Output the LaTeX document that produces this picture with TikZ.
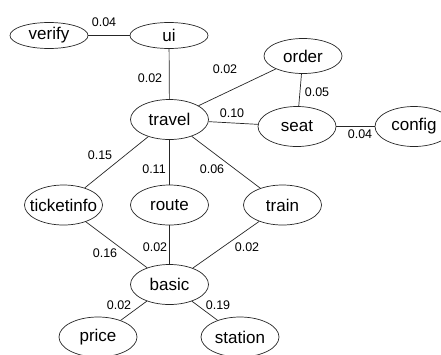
\documentclass[tikz,border=0pt]{standalone}
\usepackage{fontspec}
\setmainfont{Liberation Sans}
\usetikzlibrary{shapes.geometric}
\newcommand{\nt}[1]{\makebox[0pt]{#1}}
\tikzset{
  ell/.style={draw=black!85, line width=0.7pt, ellipse, minimum width=78pt, minimum height=40pt, inner sep=0pt, font=\fontsize{17}{20}\selectfont},
  flat/.style={ell, minimum height=26pt},
  lbl/.style={inner sep=0pt, font=\fontsize{12.5}{14}\selectfont},
  edge/.style={draw=black!85, line width=0.7pt}
}
\begin{document}
\begin{tikzpicture}[x=1pt, y=-1pt]
\useasboundingbox (0,0) rectangle (441,354);
\node[flat] (verify) at (49,35.5) {\nt{verify}};
\node[flat] (ui) at (169,35.5) {\nt{ui}};
\node[ell, minimum height=35pt] (order) at (303,56) {\nt{order}};
\node[ell] (travel) at (169.5,119.5) {\nt{travel}};
\node[ell] (seat) at (297,126.5) {\nt{seat}};
\node[ell] (config) at (414,126.5) {\nt{config}};
\node[ell] (ticketinfo) at (63.5,205) {\nt{ticketinfo}};
\node[ell] (route) at (169.5,205) {\nt{route}};
\node[ell] (train) at (282.5,205) {\nt{train}};
\node[ell] (basic) at (169.5,284.5) {\nt{basic}};
\node[ell] (price) at (98,337) {\nt{price}};
\node[ell] (station) at (240,337) {\nt{station}};

\draw[edge] (verify) -- (ui);
\draw[edge] (ui) -- (travel);
\draw[edge] (travel) -- (order);
\draw[edge] (order) -- (seat);
\draw[edge] (travel) -- (seat);
\draw[edge] (seat) -- (config);
\draw[edge] (travel) -- (ticketinfo);
\draw[edge] (travel) -- (route);
\draw[edge] (travel) -- (train);
\draw[edge] (ticketinfo) -- (basic);
\draw[edge] (route) -- (basic);
\draw[edge] (train) -- (basic);
\draw[edge] (basic) -- (price);
\draw[edge] (basic) -- (station);

\node[lbl] (l1) at (104,22) {0.04};
\node[lbl] (l2) at (150,78) {0.02};
\node[lbl] (l3) at (225,69) {0.02};
\node[lbl] (l4) at (317,92) {0.05};
\node[lbl] (l5) at (232,113) {0.10};
\node[lbl] (l6) at (360,134) {0.04};
\node[lbl] (l7) at (100,155) {0.15};
\node[lbl] (l8) at (154,169) {0.11};
\node[lbl] (l9) at (212,169) {0.06};
\node[lbl] (l10) at (105,253) {0.16};
\node[lbl] (l11) at (155,247) {0.02};
\node[lbl] (l12) at (247,247) {0.02};
\node[lbl] (l13) at (119,305) {0.02};
\node[lbl] (l14) at (218,305) {0.19};
\end{tikzpicture}
\end{document}
